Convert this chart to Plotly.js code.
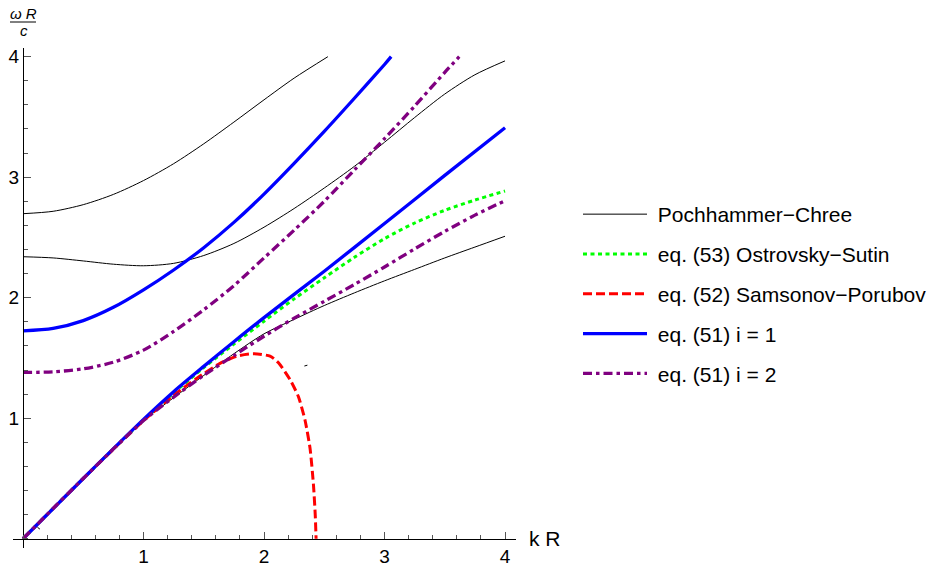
<!DOCTYPE html>
<html><head><meta charset="utf-8">
<script src="https://cdn.plot.ly/plotly-3.0.1.min.js"></script>
<style>html,body{margin:0;padding:0;background:#fff}#chart{width:931px;height:567px}</style>
</head><body><div id="chart"></div>
<script>
// ---- Data (kR -> omega R / c) ----
// Pochhammer-Chree branches
const pc1K = [0, 0.25, 0.5, 0.75, 1.0, 1.25, 1.5, 1.75, 2.0, 2.25, 2.5, 2.75, 3.0, 3.25, 3.5, 3.75, 4.0];
const pc1W = [0, 0.25, 0.5, 0.745, 0.98, 1.17, 1.355, 1.535, 1.70, 1.82, 1.935, 2.04, 2.14, 2.235, 2.33, 2.42, 2.51];
const pc2K = [0, 0.25, 0.5, 0.75, 1.0, 1.25, 1.5, 1.75, 2.0, 2.25, 2.5, 2.75, 3.0, 3.25, 3.5, 3.75, 4.0];
const pc2W = [2.34, 2.33, 2.305, 2.278, 2.265, 2.285, 2.35, 2.45, 2.585, 2.74, 2.91, 3.09, 3.29, 3.495, 3.69, 3.85, 3.965];
const pc3K = [0, 0.25, 0.5, 0.75, 1.0, 1.25, 1.5, 1.75, 2.0, 2.25, 2.53];
const pc3W = [2.697, 2.717, 2.772, 2.857, 2.972, 3.112, 3.277, 3.457, 3.642, 3.822, 4.0];
// small stray contour fragments visible in the picture
const pcStrayAK = [0.12, 0.14];
const pcStrayAW = [0.095, 0.08];
const pcStrayBK = [2.335, 2.36];
const pcStrayBW = [1.433, 1.44];

// eq. (53) Ostrovsky-Sutin
const osK = [0, 0.5, 1.0, 1.25, 1.5, 1.75, 2.0, 2.25, 2.5, 2.75, 3.0, 3.25, 3.5, 3.75, 4.0];
const osW = [0, 0.5, 0.985, 1.21, 1.42, 1.615, 1.805, 1.99, 2.165, 2.335, 2.49, 2.62, 2.725, 2.81, 2.885];

// eq. (52) Samsonov-Porubov
const spK = [0, 0.5, 1.0, 1.25, 1.44, 1.635, 1.775, 1.91, 2.05, 2.12, 2.216, 2.285, 2.34, 2.382, 2.41, 2.425, 2.432];
const spW = [0, 0.5, 0.98, 1.19, 1.33, 1.455, 1.515, 1.535, 1.515, 1.46, 1.32, 1.18, 0.985, 0.75, 0.45, 0.2, 0];

// eq. (51) i = 1 (two branches)
const e1LowK = [0, 0.5, 1.0, 1.25, 1.5, 1.75, 2.0, 2.5, 3.0, 3.5, 4.0];
const e1LowW = [0, 0.5, 0.99, 1.22, 1.43, 1.635, 1.835, 2.22, 2.615, 3.015, 3.41];
const e1UpK = [0, 0.25, 0.5, 0.75, 1.0, 1.25, 1.5, 1.75, 2.0, 2.25, 2.5, 2.75, 3.0, 3.055];
const e1UpW = [1.725, 1.745, 1.81, 1.92, 2.065, 2.23, 2.415, 2.625, 2.86, 3.115, 3.38, 3.655, 3.935, 4.0];

// eq. (51) i = 2 (two branches)
const e2LowK = [0, 0.5, 1.0, 1.25, 1.5, 1.75, 2.0, 2.25, 2.5, 2.75, 3.0, 3.25, 3.5, 3.75, 4.0];
const e2LowW = [0, 0.5, 0.98, 1.175, 1.355, 1.52, 1.68, 1.83, 1.97, 2.11, 2.255, 2.405, 2.55, 2.685, 2.805];
const e2UpK = [0, 0.25, 0.5, 0.75, 1.0, 1.25, 1.5, 1.75, 2.0, 2.25, 2.5, 2.75, 3.0, 3.25, 3.5, 3.62];
const e2UpW = [1.38, 1.385, 1.41, 1.465, 1.565, 1.72, 1.90, 2.10, 2.33, 2.56, 2.80, 3.06, 3.32, 3.59, 3.87, 4.0];

const seriesNames = ['Pochhammer\u2212Chree', 'eq. (53) Ostrovsky\u2212Sutin', 'eq. (52) Samsonov\u2212Porubov', 'eq. (51) i = 1', 'eq. (51) i = 2'];
const tickValues = [1, 2, 3, 4];
const tickLabels = ['1', '2', '3', '4'];

// join several branches into one trace with gaps
function join(pairs) {
  const x = [], y = [];
  pairs.forEach((p, i) => {
    if (i > 0) { x.push(null); y.push(null); }
    x.push(...p[0]); y.push(...p[1]);
  });
  return {x, y};
}

const FONT = 'Liberation Sans, Arial, Helvetica, sans-serif';
const pc = join([[pc1K, pc1W], [pc2K, pc2W], [pc3K, pc3W], [pcStrayAK, pcStrayAW], [pcStrayBK, pcStrayBW]]);
const e1 = join([[e1LowK, e1LowW], [e1UpK, e1UpW]]);
const e2 = join([[e2LowK, e2LowW], [e2UpK, e2UpW]]);
const pad = '\u00a0';

const traces = [
  {x: pc.x, y: pc.y, name: pad + seriesNames[0], legendgroup: 'a', mode: 'lines',
   line: {color: '#000000', width: 1, shape: 'spline', smoothing: 0.8}},
  {x: osK, y: osW, name: pad + seriesNames[1], legendgroup: 'b', mode: 'lines',
   line: {color: '#00ff00', width: 3, dash: '4px,3.5px', shape: 'spline', smoothing: 0.8}},
  {x: spK, y: spW, name: pad + seriesNames[2], legendgroup: 'c', mode: 'lines',
   line: {color: '#ff0000', width: 3, dash: '9px,4px', shape: 'spline', smoothing: 0.6}},
  {x: e1.x, y: e1.y, name: pad + seriesNames[3], legendgroup: 'd', mode: 'lines',
   line: {color: '#0000ff', width: 3.3, shape: 'spline', smoothing: 0.8}},
  {x: e2.x, y: e2.y, name: pad + seriesNames[4], legendgroup: 'e', mode: 'lines',
   line: {color: '#800080', width: 3.3, dash: '9px,4px,3.5px,4px', shape: 'spline', smoothing: 0.8}}
];

const L = 13, R = 516, T = 48, B = 548;
const px = v => (v - L) / (R - L);
const py = v => (B - v) / (B - T);

const layout = {
  width: 931, height: 567,
  margin: {l: L, r: 931 - R, t: T, b: 567 - B, pad: 0, autoexpand: false},
  paper_bgcolor: '#ffffff', plot_bgcolor: '#ffffff',
  font: {family: FONT, size: 19, color: '#000'},
  showlegend: true,
  legend: {x: px(578), y: py(194), xanchor: 'left', yanchor: 'top',
           font: {family: FONT, size: 21, color: '#000'},
           traceorder: 'grouped', tracegroupgap: 9.5, itemwidth: 64,
           bgcolor: 'rgba(0,0,0,0)', borderwidth: 0},
  xaxis: {range: [-0.083, 4.091], anchor: 'free', position: 0.077 / 4.149, side: 'bottom',
          showgrid: false, zeroline: false, showline: true, linecolor: '#000', linewidth: 1,
          tickmode: 'array', tickvals: tickValues, ticktext: tickLabels,
          ticks: 'inside', ticklen: 7, tickwidth: 1, tickcolor: '#555',
          minor: {tickmode: 'linear', tick0: 0, dtick: 0.2, ticks: 'inside', ticklen: 4, tickwidth: 1, tickcolor: '#555', showgrid: false},
          tickfont: {family: FONT, size: 19, color: '#000'}, fixedrange: true, automargin: false},
  yaxis: {range: [-0.077, 4.072], anchor: 'free', position: 0.083 / 4.174, side: 'left',
          showgrid: false, zeroline: false, showline: true, linecolor: '#000', linewidth: 1,
          tickmode: 'array', tickvals: tickValues, ticktext: tickLabels,
          ticks: 'inside', ticklen: 7, tickwidth: 1, tickcolor: '#555',
          minor: {tickmode: 'linear', tick0: 0, dtick: 0.2, ticks: 'inside', ticklen: 4, tickwidth: 1, tickcolor: '#555', showgrid: false},
          tickfont: {family: FONT, size: 19, color: '#000'}, fixedrange: true, automargin: false},
  annotations: [
    {xref: 'paper', yref: 'paper', x: px(23), y: py(14), text: '<i>\u03c9 R</i>', showarrow: false,
     xanchor: 'center', yanchor: 'middle', font: {family: FONT, size: 15, color: '#000'}},
    {xref: 'paper', yref: 'paper', x: px(23.5), y: py(31), text: '<i>c</i>', showarrow: false,
     xanchor: 'center', yanchor: 'middle', font: {family: FONT, size: 15, color: '#000'}},
    {xref: 'paper', yref: 'paper', x: px(527), y: py(538), text: 'k R', showarrow: false,
     xanchor: 'left', yanchor: 'middle', font: {family: FONT, size: 21, color: '#000'}}
  ],
  shapes: [
    {type: 'line', xref: 'paper', yref: 'paper', x0: px(10), x1: px(36), y0: py(22), y1: py(22),
     line: {color: '#000', width: 1}}
  ]
};

Plotly.newPlot('chart', traces, layout, {displayModeBar: false, staticPlot: true});
</script>
</body></html>
